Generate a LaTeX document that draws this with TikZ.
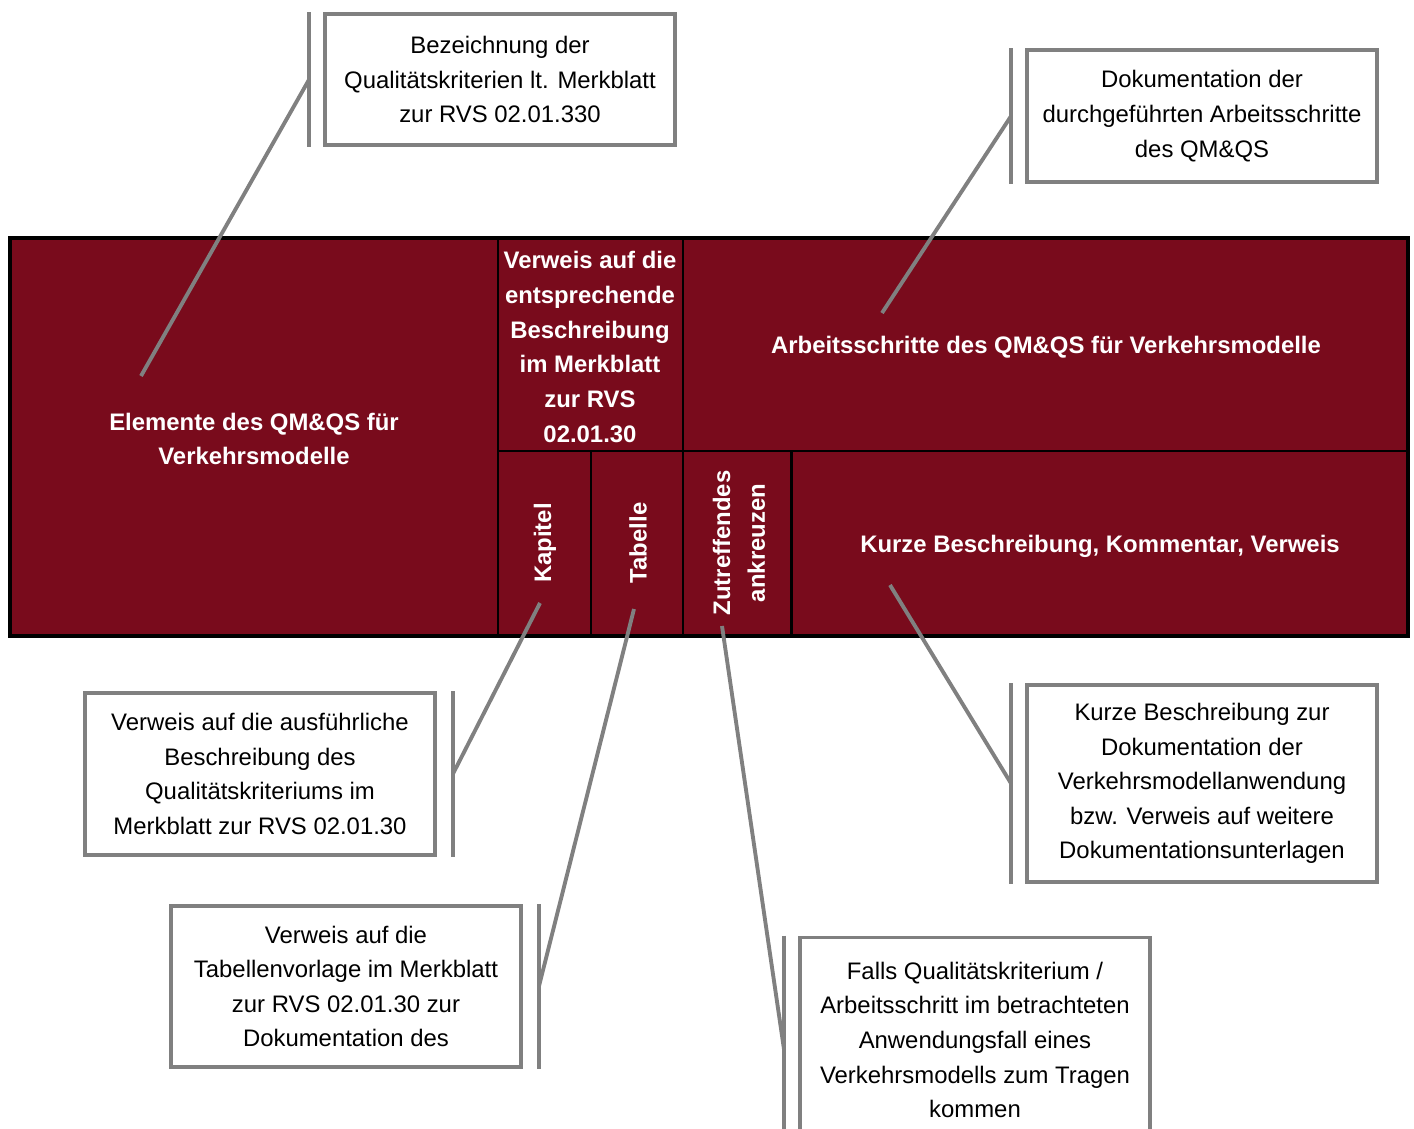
\documentclass[tikz,border=0pt]{standalone}
\usepackage{fontspec}
\setmainfont{Liberation Sans}
\usepackage{xcolor}
\usetikzlibrary{positioning}

\definecolor{cellred}{HTML}{790B1C}
\definecolor{leadgray}{HTML}{808080}

\begin{document}
\begin{tikzpicture}[
  x=0.02cm,y=-0.02cm,
  callout/.style={draw=leadgray,line width=2.2pt,fill=white,minimum width=7cm,
                  align=center,inner sep=0pt,
                  font=\fontsize{13.6}{19.7}\selectfont},
  bar/.style={draw=leadgray,line width=2.2pt},
  lead/.style={draw=leadgray,line width=2.2pt},
  head/.style={text=white,align=center,font=\bfseries\fontsize{13.6}{19.7}\selectfont},
  rot/.style={head,rotate=90}
]
  \useasboundingbox (0,0) rectangle (1414,1129);
  \clip (0,0) rectangle (1414,1129);

  %% ===== TABLE =====
  \fill[cellred] (10,238) rectangle (1408,636);
  \draw[line width=1.7pt] (498,238) -- (498,636);
  \draw[line width=1.7pt] (683,238) -- (683,636);
  \draw[line width=1.7pt] (498,451) -- (1408,451);
  \draw[line width=1.7pt] (591,451) -- (591,636);
  \draw[line width=1.7pt] (791,451) -- (791,636);
  \draw[line width=2.3pt] (10,238) rectangle (1408,636);

  % cell texts
  \node[head] (elem) at (254,439) {Elemente des QM\&QS für\\Verkehrsmodelle};
  \node[head] (verw) at (590,347) {Verweis auf die\\entsprechende\\Beschreibung\\im Merkblatt\\zur RVS\\02.01.30};
  \node[head] (arb) at (1046,347) {Arbeitsschritte des QM\&QS für Verkehrsmodelle};
  \node[rot] (kap) at (545,543) {Kapitel};
  \node[rot] (tab) at (638,543) {Tabelle};
  \node[rot] (ank) at (739,543) {Zutreffendes\\ankreuzen};
  \node[head] (kurz) at (1100,546) {Kurze Beschreibung, Kommentar, Verweis};

  % anchor points inside the table
  \coordinate (tElem) at (141,376);
  \coordinate (tArb) at (882,313);
  \coordinate (tKap) at (540,603);
  \coordinate (tTab) at (634,609);
  \coordinate (tAnk) at (722,626);
  \coordinate (tKurz) at (890,585);

  %% ===== CALLOUTS =====
  \node[callout,minimum height=2.62cm] (cBez) at (500,79.5)
    {Bezeichnung der\\Qualitätskriterien lt. Merkblatt\\zur RVS 02.01.330};
  \node[callout,minimum height=2.64cm] (cDok) at (1202,116)
    {Dokumentation der\\durchgeführten Arbeitsschritte\\des QM\&QS};
  \node[callout,minimum height=3.24cm] (cKap) at (260,774)
    {Verweis auf die ausführliche\\Beschreibung des\\Qualitätskriteriums im\\Merkblatt zur RVS 02.01.30};
  \node[callout,minimum height=3.22cm] (cTab) at (346,986.5)
    {Verweis auf die\\Tabellenvorlage im Merkblatt\\zur RVS 02.01.30 zur\\Dokumentation des};
  \node[callout,minimum height=4.1cm] (cAnk) at (975,1040)
    {Falls Qualitätskriterium /\\Arbeitsschritt im betrachteten\\Anwendungsfall eines\\Verkehrsmodells zum Tragen\\kommen};
  \node[callout,minimum height=3.94cm] (cKurz) at (1202,783.5)
    {Kurze Beschreibung zur\\Dokumentation der\\Verkehrsmodellanwendung\\bzw. Verweis auf weitere\\Dokumentationsunterlagen};

  % accent bars
  \foreach \c in {cBez,cDok,cAnk,cKurz}
    \draw[bar] ([xshift=-0.28cm]\c.north west) -- ([xshift=-0.28cm]\c.south west);
  \foreach \c in {cKap,cTab}
    \draw[bar] ([xshift=0.32cm]\c.north east) -- ([xshift=0.32cm]\c.south east);

  % leader lines
  \draw[lead] ([xshift=-0.28cm]cBez.west) -- (tElem);
  \draw[lead] ([xshift=-0.28cm]cDok.west) -- (tArb);
  \draw[lead] ([xshift=0.32cm]cKap.east) -- (tKap);
  \draw[lead] ([xshift=0.32cm]cTab.east) -- (tTab);
  \draw[lead] ([xshift=-0.28cm,yshift=-0.2cm]cAnk.west) -- (tAnk);
  \draw[lead] ([xshift=-0.28cm]cKurz.west) -- (tKurz);

\end{tikzpicture}
\end{document}
